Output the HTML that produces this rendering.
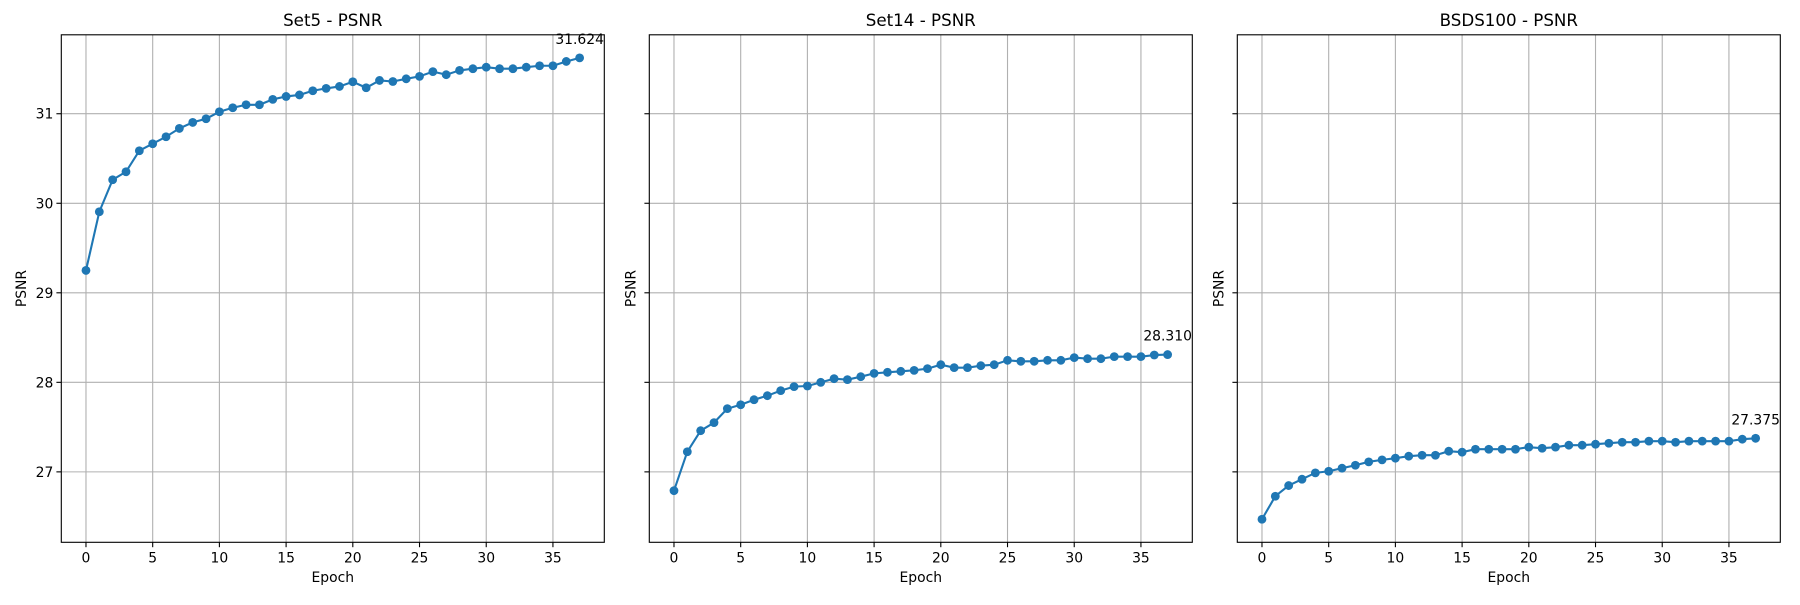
<!DOCTYPE html>
<html><head><meta charset="utf-8"><style>
html,body{margin:0;padding:0;background:#fff;}
svg text{font-family:"DejaVu Sans","Liberation Sans",sans-serif;fill:#000;}
</style></head><body>
<svg id="fig" xmlns="http://www.w3.org/2000/svg" width="1800" height="600" viewBox="0 0 1800 600"></svg>
<script>
const epochs = Array.from({length:38},(_,i)=>i);
const set5Values = [29.25,29.905,30.263,30.352,30.587,30.665,30.743,30.836,30.903,30.944,31.022,31.067,31.10,31.10,31.16,31.193,31.21,31.257,31.283,31.305,31.357,31.29,31.372,31.36,31.39,31.417,31.47,31.436,31.484,31.503,31.52,31.503,31.503,31.52,31.536,31.536,31.584,31.624];
const set14Values = [26.79,27.225,27.46,27.55,27.706,27.75,27.806,27.851,27.907,27.952,27.959,28.0,28.041,28.03,28.063,28.10,28.112,28.123,28.134,28.153,28.197,28.164,28.164,28.186,28.197,28.246,28.235,28.235,28.246,28.246,28.276,28.264,28.264,28.287,28.287,28.287,28.305,28.310];
const bsdsValues = [26.471,26.728,26.847,26.918,26.989,27.007,27.041,27.074,27.112,27.134,27.153,27.175,27.186,27.186,27.231,27.22,27.253,27.253,27.253,27.253,27.276,27.264,27.276,27.298,27.298,27.309,27.32,27.331,27.331,27.343,27.343,27.331,27.343,27.343,27.343,27.343,27.365,27.375];
const panelTitles = ["Set5 - PSNR","Set14 - PSNR","BSDS100 - PSNR"];
const xTicks = [0,5,10,15,20,25,30,35];
const yTicks = [27,28,29,30,31];

const NS="http://www.w3.org/2000/svg";
const svg=document.getElementById('fig');
function mk(tag,attrs,parent){const e=document.createElementNS(NS,tag);for(const k in attrs)e.setAttribute(k,attrs[k]);(parent||svg).appendChild(e);return e;}

const allSeries=[set5Values,set14Values,bsdsValues];
const lefts=[61.3,649.3,1237.3];
const W=543, TOP=34.8, BOT=542.3;
const allVals=[].concat(set5Values,set14Values,bsdsValues);
const yMin0=Math.min(...allVals), yMax0=Math.max(...allVals);
const yPad=(yMax0-yMin0)*0.05;
const yLo=yMin0-yPad, yHi=yMax0+yPad;
const xLo=-1.85, xHi=38.85;
function yS(v){return BOT-(v-yLo)/(yHi-yLo)*(BOT-TOP);}

allSeries.forEach((vals,p)=>{
  const L=lefts[p];
  const xS=v=>L+(v-xLo)/(xHi-xLo)*W;
  const g=mk('g',{});
  
  
  xTicks.forEach(t=>{
    const l=mk('line',{x1:xS(t),x2:xS(t),y1:TOP,y2:BOT,stroke:'#b0b0b0','stroke-width':1.1},g);
    
    
    const tk=mk('line',{x1:xS(t),x2:xS(t),y1:BOT,y2:BOT+4.9,stroke:'#000','stroke-width':1.1},g);
    
    
    const tx=mk('text',{x:xS(t),y:BOT+20,'font-size':'13.9px','text-anchor':'middle'},g);
    tx.textContent=t;
    
    
  });
  yTicks.forEach(t=>{
    const l=mk('line',{x1:L,x2:L+W,y1:yS(t),y2:yS(t),stroke:'#b0b0b0','stroke-width':1.1},g);
    
    
    const tk=mk('line',{x1:L-4.9,x2:L,y1:yS(t),y2:yS(t),stroke:'#000','stroke-width':1.1},g);
    
    
    if(p===0){
      const tx=mk('text',{x:L-8,y:yS(t)+5,'font-size':'13.9px','text-anchor':'end'},g);
      tx.textContent=t;
      
      
    }
  });
  const pts=vals.map((v,i)=>xS(epochs[i]).toFixed(2)+','+yS(v).toFixed(2)).join(' ');
  const pl=mk('polyline',{points:pts,fill:'none',stroke:'#1f77b4','stroke-width':2.1},g);
  
  
  vals.forEach((v,i)=>{
    const c=mk('circle',{cx:xS(epochs[i]),cy:yS(v),r:4.4,fill:'#1f77b4'},g);
    
    
  });
  const last=vals.length-1;
  const an=mk('text',{x:xS(epochs[last]),y:yS(vals[last])-14,'font-size':'13.9px','text-anchor':'middle'},g);
  an.textContent=vals[last].toFixed(3);
  
  
  const fr=mk('rect',{x:L,y:TOP,width:W,height:BOT-TOP,fill:'none',stroke:'#000','stroke-width':1.1},g);
  
  
  const ti=mk('text',{x:L+W/2,y:TOP-9,'font-size':'16.7px','text-anchor':'middle'},g);
  ti.textContent=panelTitles[p];
  
  
  const xl=mk('text',{x:L+W/2,y:582,'font-size':'13.9px','text-anchor':'middle'},g);
  xl.textContent='Epoch';
  
  
  const yx=p===0?26:L-14, yy=(TOP+BOT)/2;
  const yl=mk('text',{x:yx,y:yy,'font-size':'13.9px','text-anchor':'middle',transform:`rotate(-90 ${yx} ${yy})`},g);
  yl.textContent='PSNR';
  
  
});
</script>
</body></html>
